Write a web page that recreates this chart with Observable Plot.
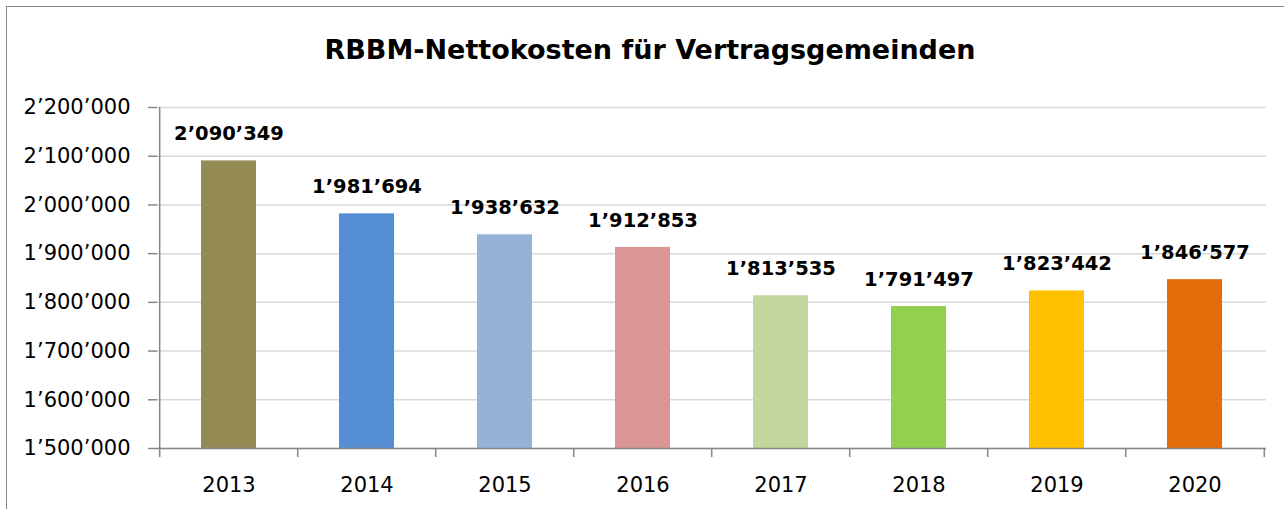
<!DOCTYPE html>
<html>
<head>
<meta charset="utf-8">
<script src="https://cdn.jsdelivr.net/npm/d3@7"></script>
<script src="https://cdn.jsdelivr.net/npm/@observablehq/plot@0.6"></script>
<style>
html, body { margin: 0; padding: 0; background: #fff; }
#frame { position: relative; width: 1284px; height: 509px; overflow: hidden; background: #fff; font-family: "DejaVu Sans", sans-serif; }
#border { position: absolute; left: 6px; top: 6px; width: 1400px; height: 700px; border-top: 1.5px solid #8a8a8a; border-left: 1.5px solid #8a8a8a; }
#title { position: absolute; left: 0; top: 36px; width: 1300px; text-align: center; font-weight: bold; font-size: 27px; line-height: 27px; color: #000; }
#chart { position: absolute; left: 0; top: 90px; }
</style>
</head>
<body>
<div id="frame">
  <div id="border"></div>
  <div id="title">RBBM-Nettokosten für Vertragsgemeinden</div>
  <div id="chart"></div>
</div>
<script>
const years = ["2013", "2014", "2015", "2016", "2017", "2018", "2019", "2020"];
const values = [2090349, 1981694, 1938632, 1912853, 1813535, 1791497, 1823442, 1846577];
const colors = ["#948A54", "#558ED5", "#95B3D7", "#D99694", "#C3D69B", "#92D050", "#FFC000", "#E46C0A"];
const yTicks = [1500000, 1600000, 1700000, 1800000, 1900000, 2000000, 2100000, 2200000];

const data = years.map((year, i) => ({year, value: values[i], color: colors[i]}));
const fmt = v => d3.format(",")(v).replace(/,/g, "\u2019");

const W = 1284, H = 419;
const mL = 157, mR = 18, mT = 17, mB = 61;
const step = (W - mL - mR) / years.length;
const axisColor = "#868686";
const yMin = yTicks[0], yMax = yTicks[yTicks.length - 1];

const chart = Plot.plot({
  width: W,
  height: H,
  marginLeft: mL,
  marginRight: mR,
  marginTop: mT,
  marginBottom: mB,
  style: {fontFamily: '"DejaVu Sans", sans-serif', background: "transparent", overflow: "visible", color: "#000"},
  x: {domain: years, paddingInner: 0.6, paddingOuter: 0.3},
  y: {domain: [yMin, yMax]},
  color: {type: "identity"},
  marks: [
    Plot.gridY({ticks: yTicks, stroke: "#d9d9d9", strokeOpacity: 1, strokeWidth: 1.5}),
    Plot.barY(data, {x: "year", y1: () => yMin, y2: "value", fill: "color"}),
    Plot.ruleY([yMin], {stroke: axisColor, strokeWidth: 1.5}),
    Plot.ruleX([years[0]], {dx: -step / 2, y1: yMin, y2: yMax, stroke: axisColor, strokeWidth: 1.5}),
    Plot.axisY({ticks: yTicks, tickSize: 9, tickPadding: 18, tickFormat: fmt, stroke: axisColor, strokeWidth: 1.5, fill: "#000", fontSize: 21, label: null}),
    Plot.axisX({tickSize: 9, dx: -step / 2, stroke: axisColor, strokeWidth: 1.5, fill: "none", label: null}),
    Plot.axisX({ticks: [years[years.length - 1]], tickSize: 9, dx: step / 2, stroke: axisColor, strokeWidth: 1.5, fill: "none", label: null}),
    Plot.axisX({tickSize: 0, tickPadding: 29, fill: "#000", fontSize: 21, label: null}),
    Plot.text(data, {x: "year", y: "value", text: d => fmt(d.value), dy: -27, fontWeight: "bold", fontSize: 19.5, fill: "#000"})
  ]
});
document.getElementById("chart").appendChild(chart);
</script>
</body>
</html>
